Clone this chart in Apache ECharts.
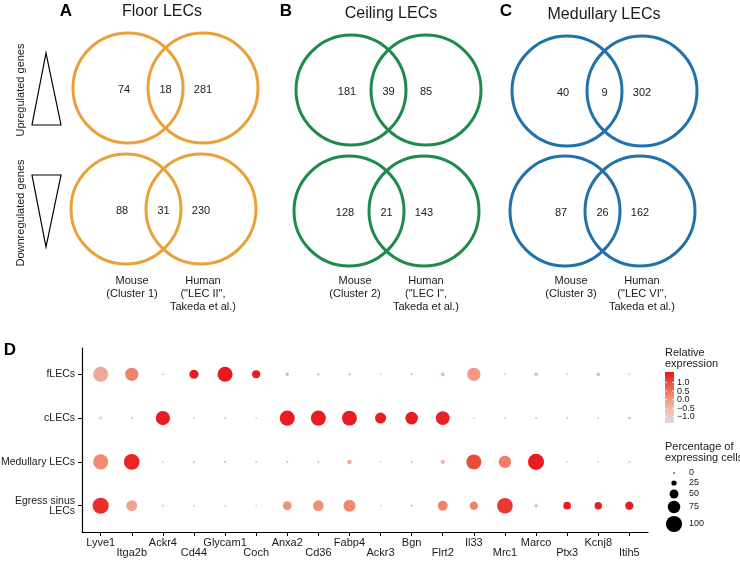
<!DOCTYPE html>
<html>
<head>
<meta charset="utf-8">
<script src="https://cdn.jsdelivr.net/npm/echarts@6/dist/echarts.min.js"></script>
<style>html,body{margin:0;padding:0;background:#fff}#c{width:740px;height:561px}</style>
</head>
<body>
<div id="c"></div>
<script>
// ---------- DATA ----------
const vennPanels = ['A', 'B', 'C'];
const vennTitles = ['Floor LECs', 'Ceiling LECs', 'Medullary LECs'];
const vennColors = ['#E9A23B', '#1E8B4B', '#2371A9'];
const upCounts = [[74, 18, 281], [181, 39, 85], [40, 9, 302]];      // mouse-only, shared, human-only
const downCounts = [[88, 31, 230], [128, 21, 143], [87, 26, 162]];
const mouseLabels = ['Mouse\n(Cluster 1)', 'Mouse\n(Cluster 2)', 'Mouse\n(Cluster 3)'];
const humanLabels = ['Human\n("LEC II",\nTakeda et al.)', 'Human\n("LEC I",\nTakeda et al.)', 'Human\n("LEC VI",\nTakeda et al.)'];
const rowLabels = ['Upregulated genes', 'Downregulated genes'];

const genes = ['Lyve1','Itga2b','Ackr4','Cd44','Glycam1','Coch','Anxa2','Cd36','Fabp4','Ackr3','Bgn','Flrt2','Il33','Mrc1','Marco','Ptx3','Kcnj8','Itih5'];
const cellTypes = ['fLECs', 'cLECs', 'Medullary LECs', 'Egress sinus\nLECs'];
// percentage of expressing cells
const pctFLEC = [93, 80, 3, 52, 93, 45, 12, 6, 6, 3, 5, 15, 80, 3, 12, 2, 12, 3];
const pctCLEC = [12, 6, 87, 3, 4, 2, 93, 93, 92, 65, 76, 85, 2, 3, 4, 4, 3, 6];
const pctMED  = [93, 97, 2, 4, 4, 3, 5, 4, 20, 2, 4, 18, 92, 74, 100, 1, 2, 3];
const pctEGR  = [100, 64, 5, 2, 2, 1, 50, 63, 72, 1, 5, 57, 46, 97, 12, 42, 40, 46];
// relative (scaled) expression
const expFLEC = [-0.25, 0.3, -0.6, 1.5, 1.55, 1.5, -0.3, -0.7, -0.6, -0.8, -0.6, -0.45, 0.0, -0.8, -0.35, -0.9, -0.35, -0.7];
const expCLEC = [-1.3, -1.2, 1.5, -0.9, -0.7, -0.9, 1.5, 1.5, 1.5, 1.5, 1.5, 1.45, -1.0, -0.9, -0.8, -0.8, -0.8, -0.25];
const expMED  = [0.2, 1.4, -0.8, -0.45, -0.5, -0.6, -0.5, -0.5, -0.3, -0.8, -0.5, -0.45, 1.0, 0.35, 1.5, -0.9, -0.8, -0.6];
const expEGR  = [1.3, -0.2, -0.6, -1.0, -0.9, -0.9, 0.1, 0.15, 0.25, -0.9, -0.5, 0.3, 0.3, 1.2, -0.45, 1.5, 1.5, 1.5];
const colorTicks = [1.0, 0.5, 0.0, -0.5, -1.0];
const colorTickLabels = ['1.0', '0.5', '0.0', '\u22120.5', '\u22121.0'];
const sizeTicks = [0, 25, 50, 75, 100];
const expMin = -1.35, expMax = 1.6;

// ---------- BUILD ----------
const FF = '"Liberation Sans", Arial, Helvetica, sans-serif';
const pctRows = [pctFLEC, pctCLEC, pctMED, pctEGR];
const expRows = [expFLEC, expCLEC, expMED, expEGR];
const dots = [];
for (let r = 0; r < cellTypes.length; r++) {
  for (let g = 0; g < genes.length; g++) {
    dots.push([g, r, expRows[r][g], pctRows[r][g]]);
  }
}
const sizeOf = p => 1.6 + p * 0.145;
const gradColors = ['#DADADA', '#F1BDB3', '#F0917C', '#EC5742', '#E8141C'];

// layout
const leftCx = [128, 351, 567];
const topCy = [88, 90, 91];
const botCy = [209, 211, 211];
const botShift = -2;
const sep = 75, R = 55;

const graphic = [];
function txt(x, y, text, size, opt) {
  opt = opt || {};
  graphic.push(Object.assign({
    type: 'text', x: x, y: y, silent: true,
    style: {
      text: text, fill: opt.fill || '#1a1a1a',
      font: (opt.weight || 'normal') + ' ' + size + 'px ' + FF,
      textAlign: opt.align || 'center', align: opt.align || 'center',
      textVerticalAlign: opt.va || 'middle', verticalAlign: opt.va || 'middle',
      lineHeight: opt.lh || Math.round(size * 1.15)
    }
  }, opt.extra || {}));
}

for (let p = 0; p < 3; p++) {
  const col = vennColors[p];
  const rows = [[topCy[p], 0, upCounts[p]], [botCy[p], botShift, downCounts[p]]];
  rows.forEach(([cy, sh, cnt]) => {
    const lx = leftCx[p] + sh, rx = lx + sep;
    [lx, rx].forEach(cx => graphic.push({
      type: 'circle', shape: { cx: cx, cy: cy, r: R }, silent: true,
      style: { fill: 'none', stroke: col, lineWidth: 3 }
    }));
    txt(lx - 4, cy + 2, String(cnt[0]), 11);
    txt((lx + rx) / 2, cy + 2, String(cnt[1]), 11);
    txt(rx, cy + 2, String(cnt[2]), 11);
  });
  txt(leftCx[p] + 4, 274, mouseLabels[p], 11, { va: 'top', lh: 13 });
  txt(leftCx[p] + sep, 274, humanLabels[p], 11, { va: 'top', lh: 13 });
}
// titles
txt(162, 12, vennTitles[0], 16);
txt(391, 14, vennTitles[1], 16);
txt(604, 15, vennTitles[2], 16);
txt(66, 11, vennPanels[0], 17, { weight: 'bold', fill: '#000' });
txt(286, 11, vennPanels[1], 17, { weight: 'bold', fill: '#000' });
txt(506, 11, vennPanels[2], 17, { weight: 'bold', fill: '#000' });
txt(10, 350, 'D', 17, { weight: 'bold', fill: '#000' });
// triangles
graphic.push({ type: 'polygon', silent: true, shape: { points: [[46, 53], [32, 125], [61, 125]] },
  style: { fill: 'none', stroke: '#000', lineWidth: 1.2 } });
graphic.push({ type: 'polygon', silent: true, shape: { points: [[32, 175], [61, 175], [46, 247]] },
  style: { fill: 'none', stroke: '#000', lineWidth: 1.2 } });
txt(21, 90, rowLabels[0], 11, { extra: { rotation: Math.PI / 2 } });
txt(21, 213, rowLabels[1], 11, { extra: { rotation: Math.PI / 2 } });

// color legend
txt(665, 358, 'Relative\nexpression', 11, { align: 'left', lh: 11 });
const barTop = 372, barBot = 423, barX = 665, barW = 9;
graphic.push({
  type: 'rect', silent: true, shape: { x: barX, y: barTop, width: barW, height: barBot - barTop },
  style: { fill: new echarts.graphic.LinearGradient(0, 1, 0, 0,
    gradColors.map((c, i) => ({ offset: i / (gradColors.length - 1), color: c }))) }
});
colorTicks.forEach((v, i) => {
  const y = barBot - (v - expMin) / (expMax - expMin) * (barBot - barTop);
  graphic.push({ type: 'line', silent: true, shape: { x1: barX, y1: y, x2: barX + 2, y2: y }, style: { stroke: '#fff', lineWidth: 0.8 } });
  graphic.push({ type: 'line', silent: true, shape: { x1: barX + barW - 2, y1: y, x2: barX + barW, y2: y }, style: { stroke: '#fff', lineWidth: 0.8 } });
  txt(677, y, colorTickLabels[i], 9, { align: 'left' });
});
// size legend
txt(665, 452, 'Percentage of\nexpressing cells', 11, { align: 'left', lh: 11 });
const sizeY = [473, 483, 494, 507, 524];
sizeTicks.forEach((v, i) => {
  graphic.push({ type: 'circle', silent: true, shape: { cx: 674, cy: sizeY[i], r: sizeOf(v) / 2 }, style: { fill: '#000' } });
  txt(689, sizeY[i], String(v), 9, { align: 'left' });
});

const evenIdx = genes.map((g, i) => i).filter(i => i % 2 === 0);
const oddIdx = genes.map((g, i) => i).filter(i => i % 2 === 1);
const xLabelStyle = { fontFamily: FF, fontSize: 11, color: '#1a1a1a', formatter: v => genes[Math.round(v)] };

const chart = echarts.init(document.getElementById('c'), null, { renderer: 'canvas' });
chart.setOption({
  animation: false,
  backgroundColor: '#fff',
  grid: { left: 82, right: 92, top: 348, bottom: 29, containLabel: false, outerBoundsMode: 'none' },
  xAxis: [{
    type: 'value', min: -0.6, max: 17.6, position: 'bottom',
    splitLine: { show: false },
    axisLine: { show: true, onZero: false, lineStyle: { color: '#000', width: 1.2 } },
    axisTick: { show: true, length: 4, lineStyle: { color: '#000', width: 1 }, customValues: genes.map((g, i) => i) },
    axisLabel: Object.assign({ customValues: evenIdx, margin: 5, showMinLabel: true, showMaxLabel: true }, xLabelStyle)
  }, {
    type: 'value', min: -0.6, max: 17.6, position: 'bottom', gridIndex: 0,
    splitLine: { show: false },
    axisLine: { show: false, onZero: false },
    axisTick: { show: false },
    axisLabel: Object.assign({ customValues: oddIdx, margin: 15, showMinLabel: true, showMaxLabel: true }, xLabelStyle)
  }],
  yAxis: {
    type: 'value', min: -0.6, max: 3.6, inverse: true,
    splitLine: { show: false },
    axisLine: { show: true, onZero: false, lineStyle: { color: '#000', width: 1.2 } },
    axisTick: { show: true, length: 4, lineStyle: { color: '#000', width: 1 }, customValues: cellTypes.map((c, i) => i) },
    axisLabel: {
      customValues: cellTypes.map((c, i) => i), margin: 7, showMinLabel: true, showMaxLabel: true,
      fontFamily: FF, fontSize: 10.5, color: '#1a1a1a', lineHeight: 10,
      formatter: v => cellTypes[Math.round(v)]
    }
  },
  visualMap: {
    show: false, type: 'continuous', dimension: 2, min: expMin, max: expMax,
    seriesIndex: 0, inRange: { color: gradColors }
  },
  series: [{
    type: 'scatter',
    xAxisIndex: 0,
    data: dots,
    symbolSize: d => sizeOf(d[3]),
    itemStyle: { opacity: 1 }
  }],
  graphic: graphic
});
</script>
</body>
</html>
